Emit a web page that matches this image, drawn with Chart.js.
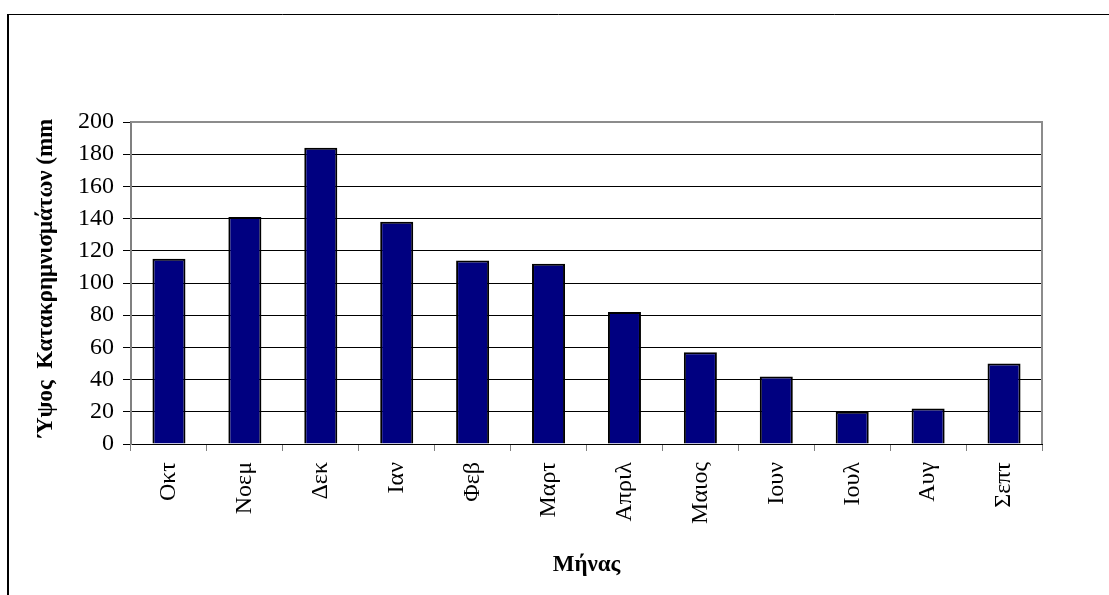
<!DOCTYPE html>
<html>
<head>
<meta charset="utf-8">
<script src="https://cdn.jsdelivr.net/npm/chart.js@4"></script>
<style>
  html, body { margin: 0; padding: 0; background: #fff; }
  #wrap { width: 1109px; height: 595px; position: relative; }
</style>
</head>
<body>
<div id="wrap"><canvas id="c" width="1109" height="595"></canvas></div>
<script>
const categories = ["Οκτ", "Νοεμ", "Δεκ", "Ιαν", "Φεβ", "Μαρτ", "Απριλ", "Μαιος", "Ιουν", "Ιουλ", "Αυγ", "Σεπτ"];
const rainfall = [115, 141, 184, 138, 114, 112, 82, 57, 42, 20, 22, 50];
const yTitle = "Ύψος  Κατακρημνισμάτων (mm";
const xTitle = "Μήνας";
const yMin = 0, yMax = 200, yStep = 20;

const serif = "'Liberation Serif', 'Times New Roman', serif";

const framePlugin = {
  id: 'frame',
  beforeDraw(chart) {
    const ctx = chart.ctx;
    ctx.save();
    ctx.strokeStyle = '#000';
    ctx.lineWidth = 2;
    ctx.beginPath();
    ctx.moveTo(8, 600);
    ctx.lineTo(8, 14);
    ctx.stroke();
    ctx.lineWidth = 1;
    ctx.beginPath();
    ctx.moveTo(7, 14.5);
    ctx.lineTo(1110, 14.5);
    ctx.stroke();
    ctx.restore();
  },
  afterDraw(chart) {
    const a = chart.chartArea;
    const ctx = chart.ctx;
    ctx.save();
    ctx.strokeStyle = '#8c8c8c';
    ctx.lineWidth = 2;
    ctx.beginPath();
    ctx.moveTo(a.left, a.top);
    ctx.lineTo(a.right, a.top);
    ctx.lineTo(a.right, a.bottom);
    ctx.stroke();
    // y axis title
    ctx.fillStyle = '#000';
    ctx.font = 'bold 23px ' + serif;
    ctx.textAlign = 'center';
    ctx.textBaseline = 'middle';
    ctx.translate(46, 278);
    ctx.rotate(-Math.PI / 2);
    ctx.fillText(yTitle, 0, 0);
    ctx.restore();
  }
};

new Chart(document.getElementById('c'), {
  type: 'bar',
  data: {
    labels: categories,
    datasets: [{
      data: rainfall,
      backgroundColor: '#000080',
      borderColor: '#000000',
      borderWidth: 2,
      categoryPercentage: 1.0,
      barPercentage: 0.435
    }]
  },
  options: {
    responsive: false,
    animation: false,
    devicePixelRatio: 1,
    layout: { padding: { left: 0, top: 122, right: 67, bottom: 0 } },
    plugins: { legend: { display: false }, tooltip: { enabled: false } },
    scales: {
      x: {
        offset: true,
        grid: { offset: true, drawOnChartArea: false, drawTicks: true, tickLength: 7, color: '#808080', lineWidth: 1 },
        border: { display: true, color: '#000', width: 1 },
        ticks: {
          minRotation: 90, maxRotation: 90, autoSkip: false,
          color: '#000', padding: 11,
          font: { family: serif, size: 24 }
        },
        title: {
          display: true, text: xTitle, color: '#000',
          font: { family: serif, size: 23, weight: 'bold', lineHeight: 1.2 },
          padding: { top: 0, bottom: 16 }
        },
        afterFit(scale) { scale.height = 151; }
      },
      y: {
        min: yMin, max: yMax,
        ticks: {
          stepSize: yStep, color: '#000', padding: 9,
          font: { family: serif, size: 24 }
        },
        grid: { color: '#000', lineWidth: 1, tickLength: 8, drawTicks: true },
        border: { display: true, color: '#808080', width: 2 },
        title: { display: false },
        afterFit(scale) { scale.width = 131; }
      }
    }
  },
  plugins: [framePlugin]
});
</script>
</body>
</html>
